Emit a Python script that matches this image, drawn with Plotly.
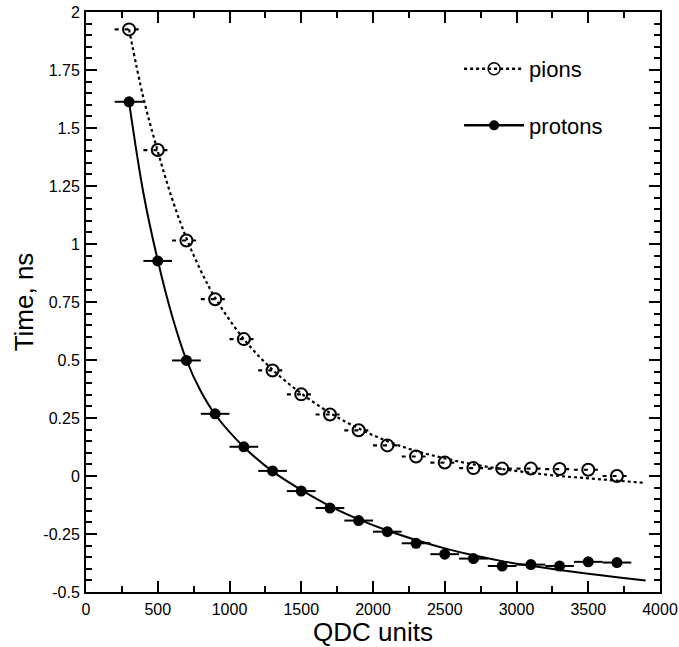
import plotly.graph_objects as go

# ---- data ----
qdc = [300, 500, 700, 900, 1100, 1300, 1500, 1700, 1900, 2100, 2300, 2500,
       2700, 2900, 3100, 3300, 3500, 3700]
qdc_err = 100
pions = [1.925, 1.405, 1.015, 0.762, 0.59, 0.455, 0.352, 0.265, 0.197, 0.132,
         0.084, 0.058, 0.034, 0.032, 0.032, 0.03, 0.027, 0.0]
protons = [1.613, 0.927, 0.498, 0.268, 0.126, 0.022, -0.065, -0.138, -0.192,
           -0.24, -0.29, -0.337, -0.356, -0.388, -0.382, -0.388, -0.37, -0.373]

fit_x = [300, 400, 500, 600, 700, 800, 900, 1100, 1300, 1500, 1700, 1900, 2100,
         2300, 2500, 2700, 2900, 3100, 3300, 3500, 3700, 3900]
pion_fit = [1.925, 1.63, 1.40, 1.195, 1.025, 0.885, 0.768, 0.59, 0.458, 0.356,
            0.272, 0.205, 0.15, 0.108, 0.076, 0.05, 0.03, 0.014, 0.0, -0.01,
            -0.02, -0.03]
proton_fit = [1.613, 1.22, 0.93, 0.69, 0.50, 0.365, 0.265, 0.125, 0.02, -0.06,
              -0.13, -0.187, -0.235, -0.276, -0.312, -0.342, -0.367, -0.387,
              -0.405, -0.421, -0.436, -0.45]

x_ticks = [0, 500, 1000, 1500, 2000, 2500, 3000, 3500, 4000]
x_ticktext = ["0", "500", "1000", "1500", "2000", "2500", "3000", "3500", "4000"]
y_ticks = [2, 1.75, 1.5, 1.25, 1, 0.75, 0.5, 0.25, 0, -0.25, -0.5]
y_ticktext = ["2", "1.75", "1.5", "1.25", "1", "0.75", "0.5", "0.25", "0", "-0.25", "-0.5"]

FONT = "Liberation Sans, Arial, sans-serif"


def err_segments(xs, ys, e):
    ex, ey = [], []
    for x, y in zip(xs, ys):
        ex += [x - e, x + e, None]
        ey += [y, y, None]
    return ex, ey


fig = go.Figure()

# fitted curves
fig.add_trace(go.Scatter(x=fit_x, y=pion_fit, mode="lines", line_shape="spline",
                         line=dict(color="black", width=2.2, dash="dot"),
                         showlegend=False, hoverinfo="skip"))
fig.add_trace(go.Scatter(x=fit_x, y=proton_fit, mode="lines", line_shape="spline",
                         line=dict(color="black", width=2),
                         showlegend=False, hoverinfo="skip"))

# horizontal error bars
ex, ey = err_segments(qdc, pions, qdc_err)
fig.add_trace(go.Scatter(x=ex, y=ey, mode="lines",
                         line=dict(color="black", width=2.2, dash="4px,6px"),
                         showlegend=False, hoverinfo="skip"))
ex, ey = err_segments(qdc, protons, qdc_err)
fig.add_trace(go.Scatter(x=ex, y=ey, mode="lines",
                         line=dict(color="black", width=2),
                         showlegend=False, hoverinfo="skip"))

# markers
fig.add_trace(go.Scatter(x=qdc, y=pions, mode="markers",
                         marker=dict(symbol="circle-open", size=12, color="black",
                                     line=dict(width=2, color="black")),
                         showlegend=False))
fig.add_trace(go.Scatter(x=qdc, y=protons, mode="markers",
                         marker=dict(symbol="circle", size=11, color="black"),
                         showlegend=False))

# legend entries
fig.add_trace(go.Scatter(x=[None], y=[None], mode="lines+markers", name="pions",
                         legendgroup="a",
                         line=dict(color="black", width=2.5, dash="dot"),
                         marker=dict(symbol="circle-open", size=12, color="black",
                                     line=dict(width=1.5, color="black"))))
fig.add_trace(go.Scatter(x=[None], y=[None], mode="lines+markers", name="protons",
                         legendgroup="b",
                         line=dict(color="black", width=2.5),
                         marker=dict(symbol="circle", size=10, color="black")))

axis_common = dict(
    showline=True, linecolor="black", linewidth=2, mirror="allticks",
    ticks="inside", tickcolor="black", tickwidth=2, ticklen=11,
    showgrid=False, zeroline=False, automargin=False,
    tickfont=dict(family=FONT, size=16, color="black"),
)

fig.update_layout(
    width=679, height=647,
    margin=dict(l=86, r=19, t=12, b=55),
    paper_bgcolor="white", plot_bgcolor="white",
    font=dict(family=FONT, color="black"),
    xaxis=dict(range=[0, 4000], tickvals=x_ticks, ticktext=x_ticktext,
               minor=dict(dtick=250, tick0=0, ticks="inside", ticklen=6,
                          tickwidth=2, tickcolor="black", showgrid=False),
               title=dict(text="QDC units", font=dict(size=26), standoff=0),
               ticklabelstandoff=2,
               **axis_common),
    yaxis=dict(range=[-0.5, 2], tickvals=y_ticks, ticktext=y_ticktext,
               minor=dict(dtick=0.05, tick0=0, ticks="inside", ticklen=6,
                          tickwidth=2, tickcolor="black", showgrid=False),
               title=dict(text="Time, ns", font=dict(size=26), standoff=2),
               ticklabelstandoff=1,
               **axis_common),
    legend=dict(x=0.650, y=0.938, xanchor="left", yanchor="top",
                bgcolor="rgba(0,0,0,0)", font=dict(size=22),
                traceorder="grouped", tracegroupgap=25, itemwidth=60),
)

fig.write_html("out.html")
